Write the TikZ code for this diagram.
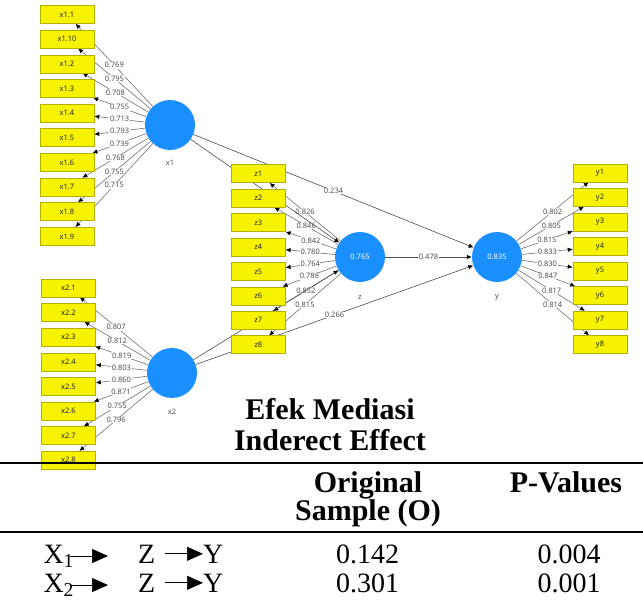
\documentclass[tikz,border=0pt]{standalone}
\usepackage{fontspec}
\setmainfont{Liberation Serif}
\newfontfamily\plsfont{Noto Sans}
\usetikzlibrary{arrows.meta,backgrounds}
\definecolor{plsblue}{HTML}{1A8FFF}
\definecolor{plsyellow}{HTML}{F7F300}
\definecolor{plsyellowln}{HTML}{B4B000}
\definecolor{plsline}{HTML}{707070}
\definecolor{plstext}{HTML}{505050}
\newcommand{\plsfs}{\plsfont\fontsize{7.5}{9}\selectfont}
\tikzset{
  lv/.style      = {circle, fill=plsblue, minimum size=50pt, inner sep=0pt,
                    text=white, font=\plsfs},
  ind/.style     = {rectangle, fill=plsyellow, draw=plsyellowln, line width=0.5pt,
                    minimum width=54pt, minimum height=18pt, inner sep=0pt,
                    text=black!85, font=\plsfs},
  lvname/.style  = {text=plstext, font=\plsfs},
  ld/.style      = {fill=white, inner sep=0.6pt, text=plstext, font=\plsfs},
  meas/.style    = {draw=plsline, line width=0.6pt,
                    -{Latex[length=5pt,width=4.5pt,color=black]}},
  strc/.style    = {draw=black!70, line width=0.6pt,
                    -{Latex[length=5pt,width=4.5pt,color=black]}},
  ttl/.style     = {anchor=base, inner sep=0pt, font=\bfseries\fontsize{30}{32}\selectfont},
  cell/.style    = {anchor=base, inner sep=0pt, font=\fontsize{28}{30}\selectfont},
  tarr/.style    = {line width=0.7pt, -{Triangle[length=16pt,width=14pt]}},
  hrule/.style   = {line width=2pt},
}

\begin{document}
\begin{tikzpicture}[x=1pt,y=-1pt]
\useasboundingbox (0,0) rectangle (643,604);

% -- indicator lists ---------------------------------------------------------
\def\xonelist{0/1.1/0.769, 1/1.10/0.795, 2/1.2/0.708, 3/1.3/0.755, 4/1.4/0.713,
  5/1.5/0.793, 6/1.6/0.739, 7/1.7/0.768, 8/1.8/0.755, 9/1.9/0.715}
\def\xtwolist{0/2.1/0.807, 1/2.2/0.812, 2/2.3/0.819, 3/2.4/0.803, 4/2.5/0.860,
  5/2.6/0.871, 6/2.7/0.755, 7/2.8/0.796}
\def\zlist{1/0.826, 2/0.846, 3/0.842, 4/0.780, 5/0.764, 6/0.788, 7/0.852, 8/0.815}
\def\ylist{1/0.802, 2/0.805, 3/0.815, 4/0.833, 5/0.830, 6/0.847, 7/0.817, 8/0.814}

% -- latent variables --------------------------------------------------------
\node[lv] (x1) at (170,125) {};
\node[lv] (x2) at (172,373) {};
\node[lv] (z)  at (360,257) {0.765};
\node[lv] (y)  at (497,257) {0.835};
\node[lvname] (x1n) at (170,163) {x1};
\node[lvname] (x2n) at (172,412) {x2};
\node[lvname] (zn)  at (360,297) {z};
\node[lvname] (yn)  at (497,297) {y};

% -- indicators --------------------------------------------------------------
\foreach \i/\n/\l in \xonelist {
  \node[ind] (xa\i) at (67,{14.5+24.65*\i}) {x\n};
}
\foreach \i/\n/\l in \xtwolist {
  \node[ind] (xb\i) at (68.5,{288+24.6*\i}) {x\n};
}
\foreach \i/\l in \zlist {
  \node[ind] (zi\i) at (258.3,{173.7+24.43*(\i-1)}) {z\i};
}
\foreach \i/\l in \ylist {
  \node[ind] (yi\i) at (600,{172.8+24.55*(\i-1)}) {y\i};
}

% -- loadings and paths (behind the boxes) -----------------------------------
\begin{scope}[on background layer]
\foreach \i/\n/\l in \xonelist {
  \draw[meas] (x1) -- node[ld] (lxa\i) {\l} (xa\i);
}
\foreach \i/\n/\l in \xtwolist {
  \draw[meas] (x2) -- node[ld] (lxb\i) {\l} (xb\i);
}
\foreach \i/\l in \zlist {
  \draw[meas] (z) -- node[ld] (lzi\i) {\l} (zi\i);
}
\foreach \i/\l in \ylist {
  \draw[meas] (y) -- node[ld] (lyi\i) {\l} (yi\i);
}
\draw[strc] (x1) -- (z);
\draw[strc] (x2) -- (z);
\draw[strc] (x1) -- node[ld] (p1) {0.234} (y);
\draw[strc] (x2) -- node[ld] (p2) {0.266} (y);
\draw[strc] (z)  -- node[ld] (p3) {0.478} (y);
\end{scope}

% -- mediation table ---------------------------------------------------------
\node[ttl] (tt1) at (330,419) {Efek Mediasi};
\node[ttl] (tt2) at (330,450) {Inderect Effect};
\draw[hrule] (0,462.5) -- (643,462.5);
\node[ttl] (hd1) at (368,492.7) {Original};
\node[ttl] (hd2) at (368,520) {Sample (O)};
\node[ttl] (hd3) at (566,492.7) {P-Values};
\draw[hrule] (0,532) -- (643,532);

\foreach \r/\b/\o/\p in {1/563/0.142/0.004, 2/592/0.301/0.001} {
  \node[cell, anchor=base west] (ra\r) at (43.3,\b) {X\textsubscript{\r}};
  \node[cell, anchor=base west] (rb\r) at (138,\b) {Z};
  \node[cell, anchor=base west] (rc\r) at (203,\b) {Y};
  \coordinate (rh\r) at (108,0 |- ra\r.east);
  \draw[tarr] ([xshift=-4pt]ra\r.east) -- (rh\r);
  \draw[tarr, shorten <=9pt] (rb\r.east) -- (rc\r.west);
  \node[cell] (ro\r) at (367.5,\b) {\o};
  \node[cell] (rp\r) at (569,\b) {\p};
}

\end{tikzpicture}
\end{document}
